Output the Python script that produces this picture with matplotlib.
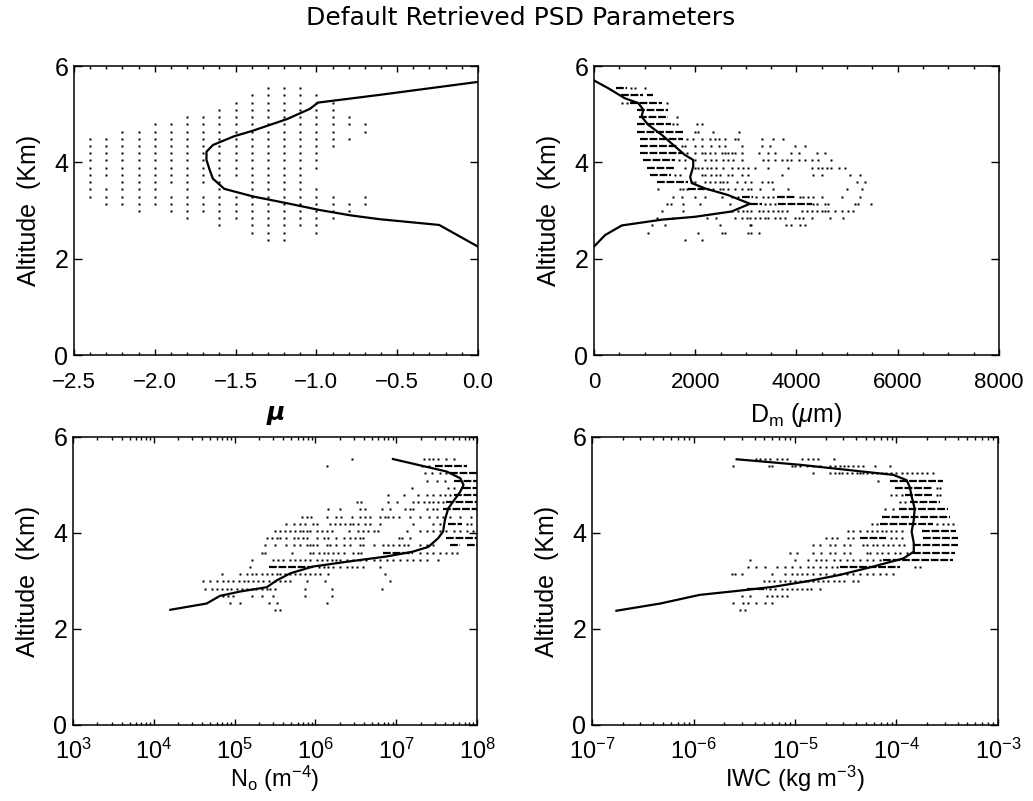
import matplotlib
matplotlib.use('Agg')
import matplotlib.pyplot as plt
import numpy as np
from matplotlib import font_manager
from matplotlib.ticker import MultipleLocator, FixedLocator, LogLocator, FuncFormatter, NullFormatter, NullLocator

try:
    font_manager.findfont(font_manager.FontProperties(family='Liberation Sans Narrow'),
                          fallback_to_default=False)
    HAVE_NARROW = True
except Exception:
    HAVE_NARROW = False

NARROW = ['Liberation Sans Narrow', 'Liberation Sans', 'DejaVu Sans'] if HAVE_NARROW else ['Liberation Sans', 'DejaVu Sans']
XTICK_SIZE = 18 if HAVE_NARROW else 16

plt.rcParams['font.family'] = ['Liberation Sans', 'DejaVu Sans']
plt.rcParams['mathtext.fontset'] = 'custom'
plt.rcParams['mathtext.rm'] = NARROW[0]
plt.rcParams['mathtext.it'] = NARROW[0] + ':italic'
plt.rcParams['mathtext.bf'] = NARROW[0] + ':bold'

TITLE = "Default Retrieved PSD Parameters"
Y_LABEL = "Altitude  (Km)"

# altitude levels (km) of the scatter rows, top to bottom
ALT_LEVELS = [5.54, 5.39, 5.24, 5.09, 4.94, 4.79, 4.64, 4.49, 4.34, 4.19, 4.04,
              3.89, 3.74, 3.59, 3.44, 3.29, 3.14, 2.99, 2.84, 2.69, 2.54, 2.39]

# ---------------- panel 1: mu ----------------
MU_DOTS = [
    [-1.3, -1.2, -1.1],
    [-1.4, -1.3, -1.2, -1.1, -1.0],
    [-1.5, -1.4, -1.3, -1.2, -1.1, -1.0, -0.9],
    [-1.6, -1.5, -1.4, -1.3, -1.2, -1.1, -1.0, -0.9],
    [-1.8, -1.7, -1.6, -1.5, -1.4, -1.3, -1.2, -1.1, -1.0, -0.9, -0.8],
    [-2.0, -1.9, -1.8, -1.7, -1.6, -1.5, -1.4, -1.3, -1.2, -1.1, -1.0, -0.9, -0.8, -0.7],
    [-2.2, -2.1, -2.0, -1.9, -1.8, -1.7, -1.6, -1.5, -1.4, -1.3, -1.2, -1.1, -1.0, -0.9, -0.7],
    [-2.4, -2.3, -2.2, -2.1, -2.0, -1.9, -1.8, -1.7, -1.6, -1.5, -1.4, -1.3, -1.2, -1.1, -1.0, -0.9, -0.8],
    [-2.4, -2.3, -2.2, -2.1, -2.0, -1.9, -1.8, -1.7, -1.6, -1.5, -1.4, -1.3, -1.2, -1.1, -1.0, -0.9],
    [-2.4, -2.3, -2.2, -2.1, -2.0, -1.9, -1.8, -1.7, -1.6, -1.5, -1.4, -1.3, -1.2, -1.1, -1.0],
    [-2.4, -2.3, -2.2, -2.1, -2.0, -1.9, -1.8, -1.7, -1.6, -1.5, -1.4, -1.3, -1.2, -1.1, -1.0],
    [-2.4, -2.3, -2.2, -2.1, -2.0, -1.9, -1.8, -1.7, -1.6, -1.5, -1.4, -1.3, -1.2, -1.1, -1.0],
    [-2.4, -2.3, -2.2, -2.1, -2.0, -1.9, -1.8, -1.7, -1.6, -1.5, -1.4, -1.3, -1.2, -1.1],
    [-2.4, -2.2, -2.1, -2.0, -1.9, -1.8, -1.7, -1.6, -1.4, -1.3, -1.2, -1.1],
    [-2.4, -2.3, -2.2, -2.1, -2.0, -1.8, -1.6, -1.4, -1.3, -1.2, -1.1, -1.0],
    [-2.4, -2.3, -2.2, -2.1, -2.0, -1.9, -1.8, -1.7, -1.6, -1.5, -1.4, -1.3, -1.2, -1.1, -1.0, -0.9, -0.7],
    [-2.3, -2.2, -2.1, -2.0, -1.9, -1.8, -1.7, -1.6, -1.5, -1.4, -1.3, -1.2, -1.1, -1.0, -0.9, -0.8, -0.7],
    [-2.1, -1.9, -1.8, -1.7, -1.6, -1.5, -1.4, -1.3, -1.2, -1.1, -1.0, -0.9, -0.8],
    [-1.8, -1.6, -1.5, -1.4, -1.3, -1.2, -1.1, -1.0, -0.9],
    [-1.6, -1.4, -1.3, -1.2, -1.1, -1.0],
    [-1.4, -1.3, -1.2, -1.0],
    [-1.3, -1.2],
]
MU_LINE = [0.0, -0.61, -0.99, -1.04, -1.18, -1.39, -1.51, -1.64, -1.68, -1.68,
           -1.66, -1.64, -1.57, -1.39, -1.18, -0.98, -0.79, -0.61, -0.24, 0.0]
MU_LINE_ALT = [5.67, 5.40, 5.24, 5.11, 4.90, 4.66, 4.54, 4.36, 4.22, 4.05,
               3.84, 3.66, 3.45, 3.29, 3.15, 3.01, 2.90, 2.82, 2.70, 2.25]

# ---------------- panel 2: Dm (um) ----------------
DM_DOTS = [
    [740, 820, 1010],
    [],
    [550, 650, 1440],
    [],
    [1630],
    [1570, 1630, 2030, 2130],
    [1990, 2060, 2360, 2860],
    [1830, 1960, 2130, 2290, 2390, 2460, 2590, 2790, 2850, 3310, 3540, 3740],
    [1730, 1800, 1990, 2130, 2320, 2460, 2590, 2920, 3310, 3480, 3970, 4170],
    [1830, 1990, 2130, 2190, 2290, 2390, 2520, 2590, 2650, 2720, 2790, 2920, 3250, 3440,
     3570, 3900, 4040, 4400, 4560],
    [1670, 1800, 1990, 2190, 2320, 2420, 2550, 2650, 2750, 2920, 3340, 3440, 3570, 3710,
     3810, 3900, 4040, 4170, 4300, 4430, 4690],
    [1800, 1990, 2060, 2130, 2230, 2320, 2420, 2550, 2720, 2850, 2950, 3050, 3180, 3440,
     3840, 4300, 4430, 4500, 4600, 4690, 4830, 4960],
    [1600, 1700, 2130, 2190, 2320, 2420, 2490, 2650, 2720, 2920, 3050, 3710, 4330, 4500,
     5060, 5250],
    [1930, 1990, 2190, 2290, 2390, 2490, 2550, 2620, 2820, 2980, 3110, 3310, 3440, 3510,
     5190, 5350],
    [1270, 1700, 1760, 1830, 2260, 2360, 2490, 2550, 2650, 2790, 2920, 3050, 3110, 3280,
     3540, 3840, 4990, 5290],
    [1570, 1730, 1990, 2190, 2520, 2720, 2850, 3210, 3340, 3440, 3540, 4070, 4130, 4230,
     4330, 4500, 4890, 5250],
    [1440, 1530, 1760, 2090, 2690, 3380, 3480, 3570, 4330, 4400, 4560, 4630, 5150, 5220, 5480],
    [1340, 1760, 2720, 2850, 2950, 3020, 3110, 3250, 3340, 3440, 3540, 3640, 3710, 3810,
     4100, 4200, 4300, 4400, 4500, 4560, 4630, 4760, 4890, 5020, 5120],
    [1240, 1570, 2230, 2420, 2790, 2920, 3020, 3080, 3180, 3280, 3380, 3440, 3570, 3670,
     3770, 3970, 4040, 4130, 4300, 4660, 4920],
    [1140, 1400, 2490, 3080, 3110, 3800, 3900, 4070, 4170],
    [1070, 2060, 2520, 2590, 3050, 3110, 3250],
    [1800, 2130],
]
DM_SEG_ROW = [0, 1, 1, 2, 3, 4, 5, 6, 7, 8, 9, 10, 11, 12, 13, 14, 15, 15, 16, 16]
DM_SEG_X0 = [430, 530, 1040, 710, 840, 880, 840, 840, 910, 910, 910, 970, 1040, 1110, 1240,
             1860, 2920, 3610, 3080, 3640]
DM_SEG_X1 = [650, 970, 1170, 1340, 1470, 1470, 1530, 1760, 1760, 1630, 1730, 1600, 1600,
             1530, 1860, 2190, 3150, 3970, 3310, 4300]
DM_LINE = [0, 280, 610, 875, 975, 940, 1070, 1340, 1600, 1800, 1960, 1960, 1900, 1930,
           2190, 2650, 3080, 2720, 2000, 1340, 550, 220, 0]
DM_LINE_ALT = [5.70, 5.54, 5.33, 5.23, 5.09, 4.95, 4.78, 4.57, 4.33, 4.15, 4.05, 3.91,
               3.70, 3.57, 3.46, 3.32, 3.14, 2.98, 2.87, 2.81, 2.69, 2.49, 2.25]

# ---------------- panel 3: No (m^-4), log10 values ----------------
NO_LOG_DOTS = [
    [6.45, 7.34, 7.40, 7.46, 7.52, 7.62, 7.71],
    [6.14, 7.315, 7.40],
    [7.36, 7.44, 7.54, 7.62],
    [7.38, 7.50, 7.60],
    [7.19, 7.645, 7.71],
    [6.90, 7.10, 7.27, 7.38, 7.46, 7.54, 7.60, 7.665],
    [6.51, 6.57, 6.90, 7.01, 7.21, 7.27, 7.34, 7.40, 7.46, 7.52, 7.58],
    [6.16, 6.30, 6.55, 6.61, 6.82, 6.92, 7.11, 7.17, 7.21, 7.38, 7.46, 7.50],
    [5.83, 5.89, 5.95, 6.14, 6.26, 6.32, 6.45, 6.55, 6.61, 6.675, 6.80, 6.86, 6.90, 6.96,
     7.03, 7.17, 7.29, 7.40, 7.50, 7.58, 7.665, 7.79, 7.93],
    [5.64, 5.73, 5.81, 5.87, 5.97, 6.02, 6.18, 6.24, 6.30, 6.37, 6.43, 6.47, 6.53, 6.61,
     6.675, 6.80, 7.21, 7.46, 7.54, 7.87, 7.93],
    [5.50, 5.56, 5.62, 5.685, 5.75, 5.81, 5.85, 5.89, 5.93, 6.02, 6.08, 6.14, 6.20, 6.41,
     6.53, 6.59, 6.655, 6.72, 6.78, 7.13, 7.29, 7.38, 7.46, 7.54, 7.62, 7.71, 7.79, 7.87, 7.95],
    [5.40, 5.46, 5.52, 5.56, 5.64, 5.73, 5.79, 5.85, 5.89, 6.02, 6.10, 6.16, 6.26, 6.35,
     6.43, 6.49, 6.55, 6.59, 7.03, 7.07, 7.17],
    [5.375, 5.50, 5.64, 5.73, 5.81, 5.89, 5.93, 5.97, 6.02, 6.14, 6.18, 6.26, 6.35, 6.43,
     6.55, 6.59, 6.72, 6.84, 6.90, 6.96, 7.03, 7.09, 7.15, 7.29, 7.38, 7.46],
    [5.335, 5.375, 5.71, 5.93, 5.97, 6.04, 6.10, 6.16, 6.22, 6.28, 6.35, 6.47, 6.53, 6.57,
     7.29, 7.38, 7.46, 7.54, 7.62, 7.69, 7.75],
    [5.21, 5.48, 5.54, 5.60, 5.685, 5.75, 5.81, 5.87, 5.93, 6.02, 6.08, 6.14, 6.20, 6.26,
     6.30, 6.39, 6.47, 6.55, 6.63, 6.72, 6.80, 6.88, 6.96, 7.05, 7.13, 7.21, 7.29, 7.38, 7.52],
    [5.19, 6.04, 6.10, 6.16, 6.22, 6.30, 6.39, 6.45, 6.51, 6.59, 6.80],
    [4.84, 5.07, 5.15, 5.21, 5.27, 5.335, 5.40, 5.46, 5.52, 5.56, 5.62, 5.685, 5.75, 5.81,
     5.87, 5.93, 5.995, 6.06, 6.16, 6.86],
    [4.61, 4.70, 4.78, 4.86, 4.92, 4.98, 5.05, 5.11, 5.17, 5.23, 5.29, 5.355, 5.42, 5.50,
     5.56, 5.62, 5.685, 5.89, 6.12, 6.92],
    [4.63, 4.72, 4.78, 4.84, 4.90, 4.96, 5.025, 5.09, 5.15, 5.21, 5.27, 5.335, 5.40, 5.44,
     5.50, 5.87, 6.20, 6.82],
    [4.86, 4.92, 4.98, 5.21, 5.335, 5.48, 5.87, 6.20],
    [4.94, 5.07, 5.42, 5.52, 6.14],
    [5.50, 5.56],
]
NO_SEG_ROW = [1, 2, 3, 4, 5, 6, 7, 9, 11, 12, 12, 13, 15]
NO_SEG_LOG0 = [7.48, 7.665, 7.71, 7.83, 7.71, 7.62, 7.58, 7.645, 7.62, 7.665, 7.87, 6.84, 5.42]
NO_SEG_LOG1 = [7.87, 8.0, 8.0, 8.0, 8.0, 8.0, 8.0, 7.81, 8.0, 7.79, 8.0, 7.21, 5.97]
NO_LINE = [9.1e6, 4.2e7, 6.2e7, 6.8e7, 6.2e7, 5.4e7, 4.4e7, 4.0e7, 3.8e7, 3.3e7, 2.5e7,
           1.6e7, 7.6e6, 2.45e6, 9.3e5, 4.9e5, 3.3e5, 2.5e5, 1.17e5, 6.6e4, 4.5e4, 1.6e4]
NO_LINE_ALT = [5.54, 5.28, 5.14, 5.00, 4.86, 4.72, 4.51, 4.27, 4.03, 3.89, 3.71,
               3.61, 3.51, 3.40, 3.30, 3.16, 3.01, 2.87, 2.78, 2.69, 2.53, 2.40]

# ---------------- panel 4: IWC (kg m^-3), log10 values ----------------
IWC_LOG_DOTS = [
    [-5.38, -5.345, -5.295, -5.25, -5.18, -5.13, -5.08, -4.93, -4.87, -4.82, -4.77, -4.62],
    [-5.61, -5.26, -5.23, -5.03, -5.00, -4.95, -4.885, -4.82, -4.75, -4.655, -4.605, -4.56,
     -4.52, -4.475, -4.425, -4.375, -4.33, -4.21, -4.064],
    [-4.82, -4.655, -4.605, -4.57, -4.54, -4.49, -4.44, -4.39, -4.36, -4.33, -4.29, -4.245,
     -4.195, -4.146, -4.10, -4.05, -4.0, -3.95, -3.90, -3.85, -3.80, -3.75, -3.70, -3.64],
    [-4.18],
    [-3.60, -3.57],
    [-4.05, -4.0, -3.95, -3.60, -3.57],
    [-3.965, -3.92],
    [-4.11, -4.03],
    [],
    [-4.245, -4.195, -3.60, -3.54, -3.49, -3.44],
    [-4.475, -4.425, -4.36, -4.29, -4.245, -4.195, -4.146, -4.10, -4.05, -4.0, -3.95],
    [-4.69, -4.64, -4.59, -4.475, -4.425, -4.05, -4.0, -3.95],
    [-4.82, -4.75, -4.655, -4.605, -4.52, -4.46, -4.33, -4.29, -4.23, -4.195, -4.13, -4.08,
     -4.03, -3.98, -3.93],
    [-5.05, -4.98, -4.82, -4.74, -4.655, -4.605, -4.52, -4.46, -4.29, -4.26, -4.195, -4.146,
     -4.08, -4.015, -3.965, -3.90],
    [-5.44, -5.00, -4.87, -4.79, -4.74, -4.69, -4.62, -4.56, -4.49, -4.425, -4.36, -4.29,
     -4.23, -4.16],
    [-5.46, -5.38, -5.295, -5.18, -5.10, -5.03, -4.95, -4.87, -4.82, -4.75, -4.69, -4.64,
     -4.59, -3.82, -3.77],
    [-5.62, -5.59, -5.525, -5.23, -5.10, -5.03, -4.98, -4.93, -4.885, -4.82, -4.75, -4.69,
     -4.62, -4.56, -4.49, -4.425, -4.36, -4.29, -4.23, -4.16, -4.10, -4.03],
    [-5.31, -5.26, -5.21, -5.15, -5.10, -5.05, -5.00, -4.95, -4.90, -4.87, -4.82, -4.77,
     -4.72, -4.67, -4.62, -4.57, -4.52, -4.425, -4.375],
    [-5.25, -5.20, -5.13, -5.08, -5.03, -4.98, -4.93, -4.885, -4.84, -4.75],
    [-5.525, -5.44, -5.28, -5.23, -5.18, -5.13, -5.08],
    [-5.61, -5.51, -5.46, -5.38, -5.295, -5.23],
    [-5.54, -5.49],
]
IWC_SEG_ROW = [3, 4, 5, 6, 7, 8, 9, 10, 11, 11, 12, 13, 14, 15, 18]
IWC_SEG_LOG0 = [-4.064, -4.015, -3.92, -3.87, -3.98, -4.146, -4.16, -3.75, -4.36, -3.735,
                -3.834, -3.834, -4.13, -4.56, -5.475]
IWC_SEG_LOG1 = [-3.54, -3.64, -3.64, -3.57, -3.49, -3.47, -3.64, -3.41, -4.10, -3.39,
                -3.39, -3.42, -3.44, -3.965, -5.28]
IWC_LINE = [2.66e-6, 1.12e-5, 3.76e-5, 9.3e-5, 1.26e-4, 1.35e-4, 1.41e-4, 1.51e-4, 1.48e-4,
            1.41e-4, 1.48e-4, 1.48e-4, 1.17e-4, 5.9e-5, 2.75e-5, 1.29e-5, 6.2e-6, 2.9e-6,
            1.15e-6, 4.7e-7, 1.74e-7]
IWC_LINE_ALT = [5.535, 5.42, 5.30, 5.21, 5.10, 4.96, 4.76, 4.51, 4.27, 4.03, 3.79, 3.61,
                3.47, 3.30, 3.125, 2.99, 2.88, 2.80, 2.71, 2.53, 2.38]

fig = plt.figure(figsize=(10.33, 8.01), dpi=100)
fig.text(0.504, 0.978, TITLE, ha='center', va='center', fontsize=18,
         family=['DejaVu Sans'])

ax_tl = fig.add_axes([0.0716, 0.5568, 0.3911, 0.3608])
ax_tr = fig.add_axes([0.5750, 0.5568, 0.3921, 0.3608])
ax_bl = fig.add_axes([0.0707, 0.0949, 0.3911, 0.3596])
ax_br = fig.add_axes([0.5731, 0.0949, 0.3930, 0.3596])

DOT_MS = 1.8
SEG_LW = 1.6
LINE_LW = 1.6


def draw_rows(ax, rows, to_x):
    for lev, xs in zip(ALT_LEVELS, rows):
        if len(xs) == 0:
            continue
        xv = to_x(np.asarray(xs, dtype=float))
        ax.plot(xv, np.full(len(xv), lev), linestyle='none', marker='s',
                ms=DOT_MS, mec='none', mfc='black')


def draw_segs(ax, rows, x0, x1, to_x):
    ys = [ALT_LEVELS[r] for r in rows]
    ax.hlines(ys, to_x(np.asarray(x0, dtype=float)), to_x(np.asarray(x1, dtype=float)),
              colors='black', linewidth=SEG_LW, linestyles=[(0, (3.5, 0.8))])


ident = lambda v: v
pow10 = lambda v: 10.0 ** v

draw_rows(ax_tl, MU_DOTS, ident)
ax_tl.plot(MU_LINE, MU_LINE_ALT, color='black', lw=LINE_LW)

draw_rows(ax_tr, DM_DOTS, ident)
draw_segs(ax_tr, DM_SEG_ROW, DM_SEG_X0, DM_SEG_X1, ident)
ax_tr.plot(DM_LINE, DM_LINE_ALT, color='black', lw=LINE_LW)

draw_rows(ax_bl, NO_LOG_DOTS, pow10)
draw_segs(ax_bl, NO_SEG_ROW, NO_SEG_LOG0, NO_SEG_LOG1, pow10)
ax_bl.plot(NO_LINE, NO_LINE_ALT, color='black', lw=LINE_LW)

draw_rows(ax_br, IWC_LOG_DOTS, pow10)
draw_segs(ax_br, IWC_SEG_ROW, IWC_SEG_LOG0, IWC_SEG_LOG1, pow10)
ax_br.plot(IWC_LINE, IWC_LINE_ALT, color='black', lw=LINE_LW)

# axes setup
ax_tl.set_xlim(-2.5, 0.0)
ax_tl.xaxis.set_major_locator(MultipleLocator(0.5))
ax_tl.xaxis.set_minor_locator(MultipleLocator(0.1))
ax_tl.xaxis.set_major_formatter(FuncFormatter(lambda v, p: ('%.1f' % v).replace('-', '\u2212')))

ax_tr.set_xlim(0, 8000)
ax_tr.xaxis.set_major_locator(MultipleLocator(2000))
ax_tr.xaxis.set_minor_locator(MultipleLocator(500))

logfmt = FuncFormatter(lambda v, p: r'$10^{%d}$' % int(round(np.log10(v))))
ax_bl.set_xscale('log')
ax_bl.set_xlim(1e3, 1e8)
ax_bl.xaxis.set_major_locator(FixedLocator([1e3, 1e4, 1e5, 1e6, 1e7, 1e8]))
ax_bl.xaxis.set_minor_locator(LogLocator(base=10, subs=np.arange(2, 10), numticks=50))
ax_bl.xaxis.set_major_formatter(logfmt)
ax_bl.xaxis.set_minor_formatter(NullFormatter())

ax_br.set_xscale('log')
ax_br.set_xlim(1e-7, 1e-3)
ax_br.xaxis.set_major_locator(FixedLocator([1e-7, 1e-6, 1e-5, 1e-4, 1e-3]))
ax_br.xaxis.set_minor_locator(LogLocator(base=10, subs=np.arange(2, 10), numticks=50))
ax_br.xaxis.set_major_formatter(logfmt)
ax_br.xaxis.set_minor_formatter(NullFormatter())

for ax in (ax_tl, ax_tr, ax_bl, ax_br):
    ax.set_ylim(0, 6)
    ax.yaxis.set_major_locator(MultipleLocator(2))
    ax.yaxis.set_minor_locator(NullLocator())
    ax.tick_params(axis='both', which='both', direction='in', top=True, right=True,
                   width=1.0, color='black')
    ax.tick_params(axis='x', which='major', length=4.5, pad=12, labelsize=XTICK_SIZE)
    ax.tick_params(axis='x', which='minor', length=2.3)
    ax.tick_params(axis='y', which='major', length=6, pad=4, labelsize=18)
    for lab in ax.get_xticklabels():
        lab.set_family(NARROW)
    for sp in ax.spines.values():
        sp.set_linewidth(1.1)
    ax.set_ylabel(Y_LABEL, fontsize=18, labelpad=10)

for ax in (ax_bl, ax_br):
    ax.tick_params(axis='x', which='major', pad=10, labelsize=XTICK_SIZE + 1)

ax_tl.set_xlabel('\u03bc', fontsize=18, fontweight='bold', style='italic',
                 family=['DejaVu Sans'], labelpad=6)
ax_tr.set_xlabel(r'D$_{\rm m}$ ($\mu$m)', fontsize=18, labelpad=6)
ax_bl.set_xlabel(r'N$_{\rm o}$ (m$^{-4}$)', fontsize=17, labelpad=0, family=NARROW)
ax_br.set_xlabel(r'IWC (kg m$^{-3}$)', fontsize=17, labelpad=0, family=NARROW)

fig.savefig('out.png', dpi=100)
